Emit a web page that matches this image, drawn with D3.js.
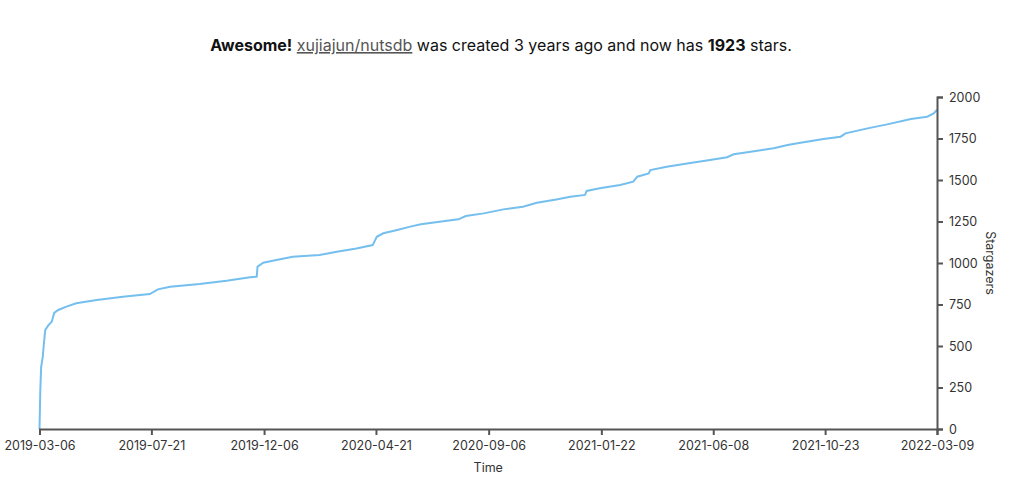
<!DOCTYPE html>
<html>
<head>
<meta charset="utf-8">
<script src="https://cdn.jsdelivr.net/npm/d3@7"></script>
<style>
  html, body { margin: 0; padding: 0; background: #fff; }
  svg { display: block; font-family: Inter, "Noto Sans", sans-serif; }
</style>
</head>
<body>
<svg id="chart" width="1025" height="494"></svg>
<script>
const dates = ["2019-03-06","2019-03-07","2019-03-08","2019-03-10","2019-03-11","2019-03-13","2019-03-17","2019-03-21","2019-03-24","2019-03-29",
  "2019-04-08","2019-04-20","2019-05-15","2019-06-16","2019-07-19","2019-07-29","2019-08-13","2019-09-18","2019-10-21","2019-11-19",
  "2019-11-27","2019-11-28","2019-12-05","2019-12-21","2020-01-10","2020-02-12","2020-03-04","2020-03-28","2020-04-17","2020-04-22",
  "2020-04-30","2020-05-17","2020-06-02","2020-06-15","2020-07-17","2020-07-31","2020-08-09","2020-08-31","2020-09-24","2020-10-18",
  "2020-11-04","2020-11-28","2020-12-15","2021-01-02","2021-01-04","2021-01-20","2021-02-14","2021-03-02","2021-03-07","2021-03-21",
  "2021-03-23","2021-04-12","2021-05-07","2021-06-04","2021-06-25","2021-07-03","2021-07-24","2021-08-21","2021-09-07","2021-09-23",
  "2021-10-21","2021-11-11","2021-11-17","2021-12-14","2022-01-07","2022-02-05","2022-02-25","2022-03-05","2022-03-09"];
const stars = [0,235,373,434,494,596,626,646,699,717,
  737,757,777,797,813,841,857,873,893,914,
  918,978,1002,1018,1038,1048,1068,1088,1108,1158,
  1179,1199,1219,1233,1255,1263,1283,1299,1323,1339,
  1363,1383,1399,1410,1434,1450,1470,1490,1520,1540,
  1560,1580,1600,1620,1637,1655,1670,1691,1711,1725,
  1747,1761,1781,1811,1835,1867,1881,1901,1923];
const xTickLabels = ["2019-03-06","2019-07-21","2019-12-06","2020-04-21","2020-09-06","2021-01-22","2021-06-08","2021-10-23","2022-03-09"];
const yTicks = [0,250,500,750,1000,1250,1500,1750,2000];

const parse = d3.timeParse("%Y-%m-%d");
const data = dates.map((d, i) => ({ date: parse(d), value: stars[i] }));

const svg = d3.select("#chart");
const plotLeft = 39.5, plotRight = 937, plotTop = 97, plotBottom = 429;

const x = d3.scaleTime()
  .domain([parse(xTickLabels[0]), parse(xTickLabels[xTickLabels.length - 1])])
  .range([plotLeft, plotRight]);
const y = d3.scaleLinear().domain([0, 2000]).range([plotBottom, plotTop]);

// title
const title = svg.append("text")
  .attr("x", 501).attr("y", 51)
  .attr("text-anchor", "middle")
  .attr("font-size", 16)
  .attr("fill", "#111");
title.append("tspan").attr("font-weight", "bold").text("Awesome!");
title.append("tspan").text(" ");
title.append("tspan").attr("fill", "#555").attr("text-decoration", "underline").text("xujiajun/nutsdb");
title.append("tspan").text(" was created 3 years ago and now has ");
title.append("tspan").attr("font-weight", "bold").text("1923");
title.append("tspan").text(" stars.");

// line
const line = d3.line().x(d => x(d.date)).y(d => y(d.value));
svg.append("path")
  .datum(data)
  .attr("fill", "none")
  .attr("stroke", "#74bfee")
  .attr("stroke-width", 2)
  .attr("d", line);

// x axis
const xAxis = svg.append("g")
  .attr("transform", `translate(0,${plotBottom})`)
  .call(d3.axisBottom(x)
    .tickValues(xTickLabels.map(parse))
    .tickFormat(d3.timeFormat("%Y-%m-%d"))
    .tickSize(6).tickPadding(6));
xAxis.selectAll("path, line").attr("stroke", "#555").attr("stroke-width", 2);
xAxis.selectAll("text").attr("font-size", 12.5).attr("fill", "#333").attr("font-family", "Inter, sans-serif");

// y axis
const yAxis = svg.append("g")
  .attr("transform", `translate(${plotRight},0)`)
  .call(d3.axisRight(y).tickValues(yTicks).tickFormat(d3.format("d")).tickSize(6).tickPadding(6));
yAxis.selectAll("path, line").attr("stroke", "#555").attr("stroke-width", 2);
yAxis.selectAll("text").attr("font-size", 12.5).attr("fill", "#333").attr("font-family", "Inter, sans-serif");

// axis labels
svg.append("text")
  .attr("x", (plotLeft + plotRight) / 2).attr("y", 472)
  .attr("text-anchor", "middle")
  .attr("font-size", 12.5).attr("fill", "#333")
  .text("Time");
svg.append("text")
  .attr("transform", `translate(986,${(plotTop + plotBottom) / 2}) rotate(90)`)
  .attr("text-anchor", "middle")
  .attr("font-size", 12.5).attr("fill", "#333")
  .text("Stargazers");
</script>
</body>
</html>
